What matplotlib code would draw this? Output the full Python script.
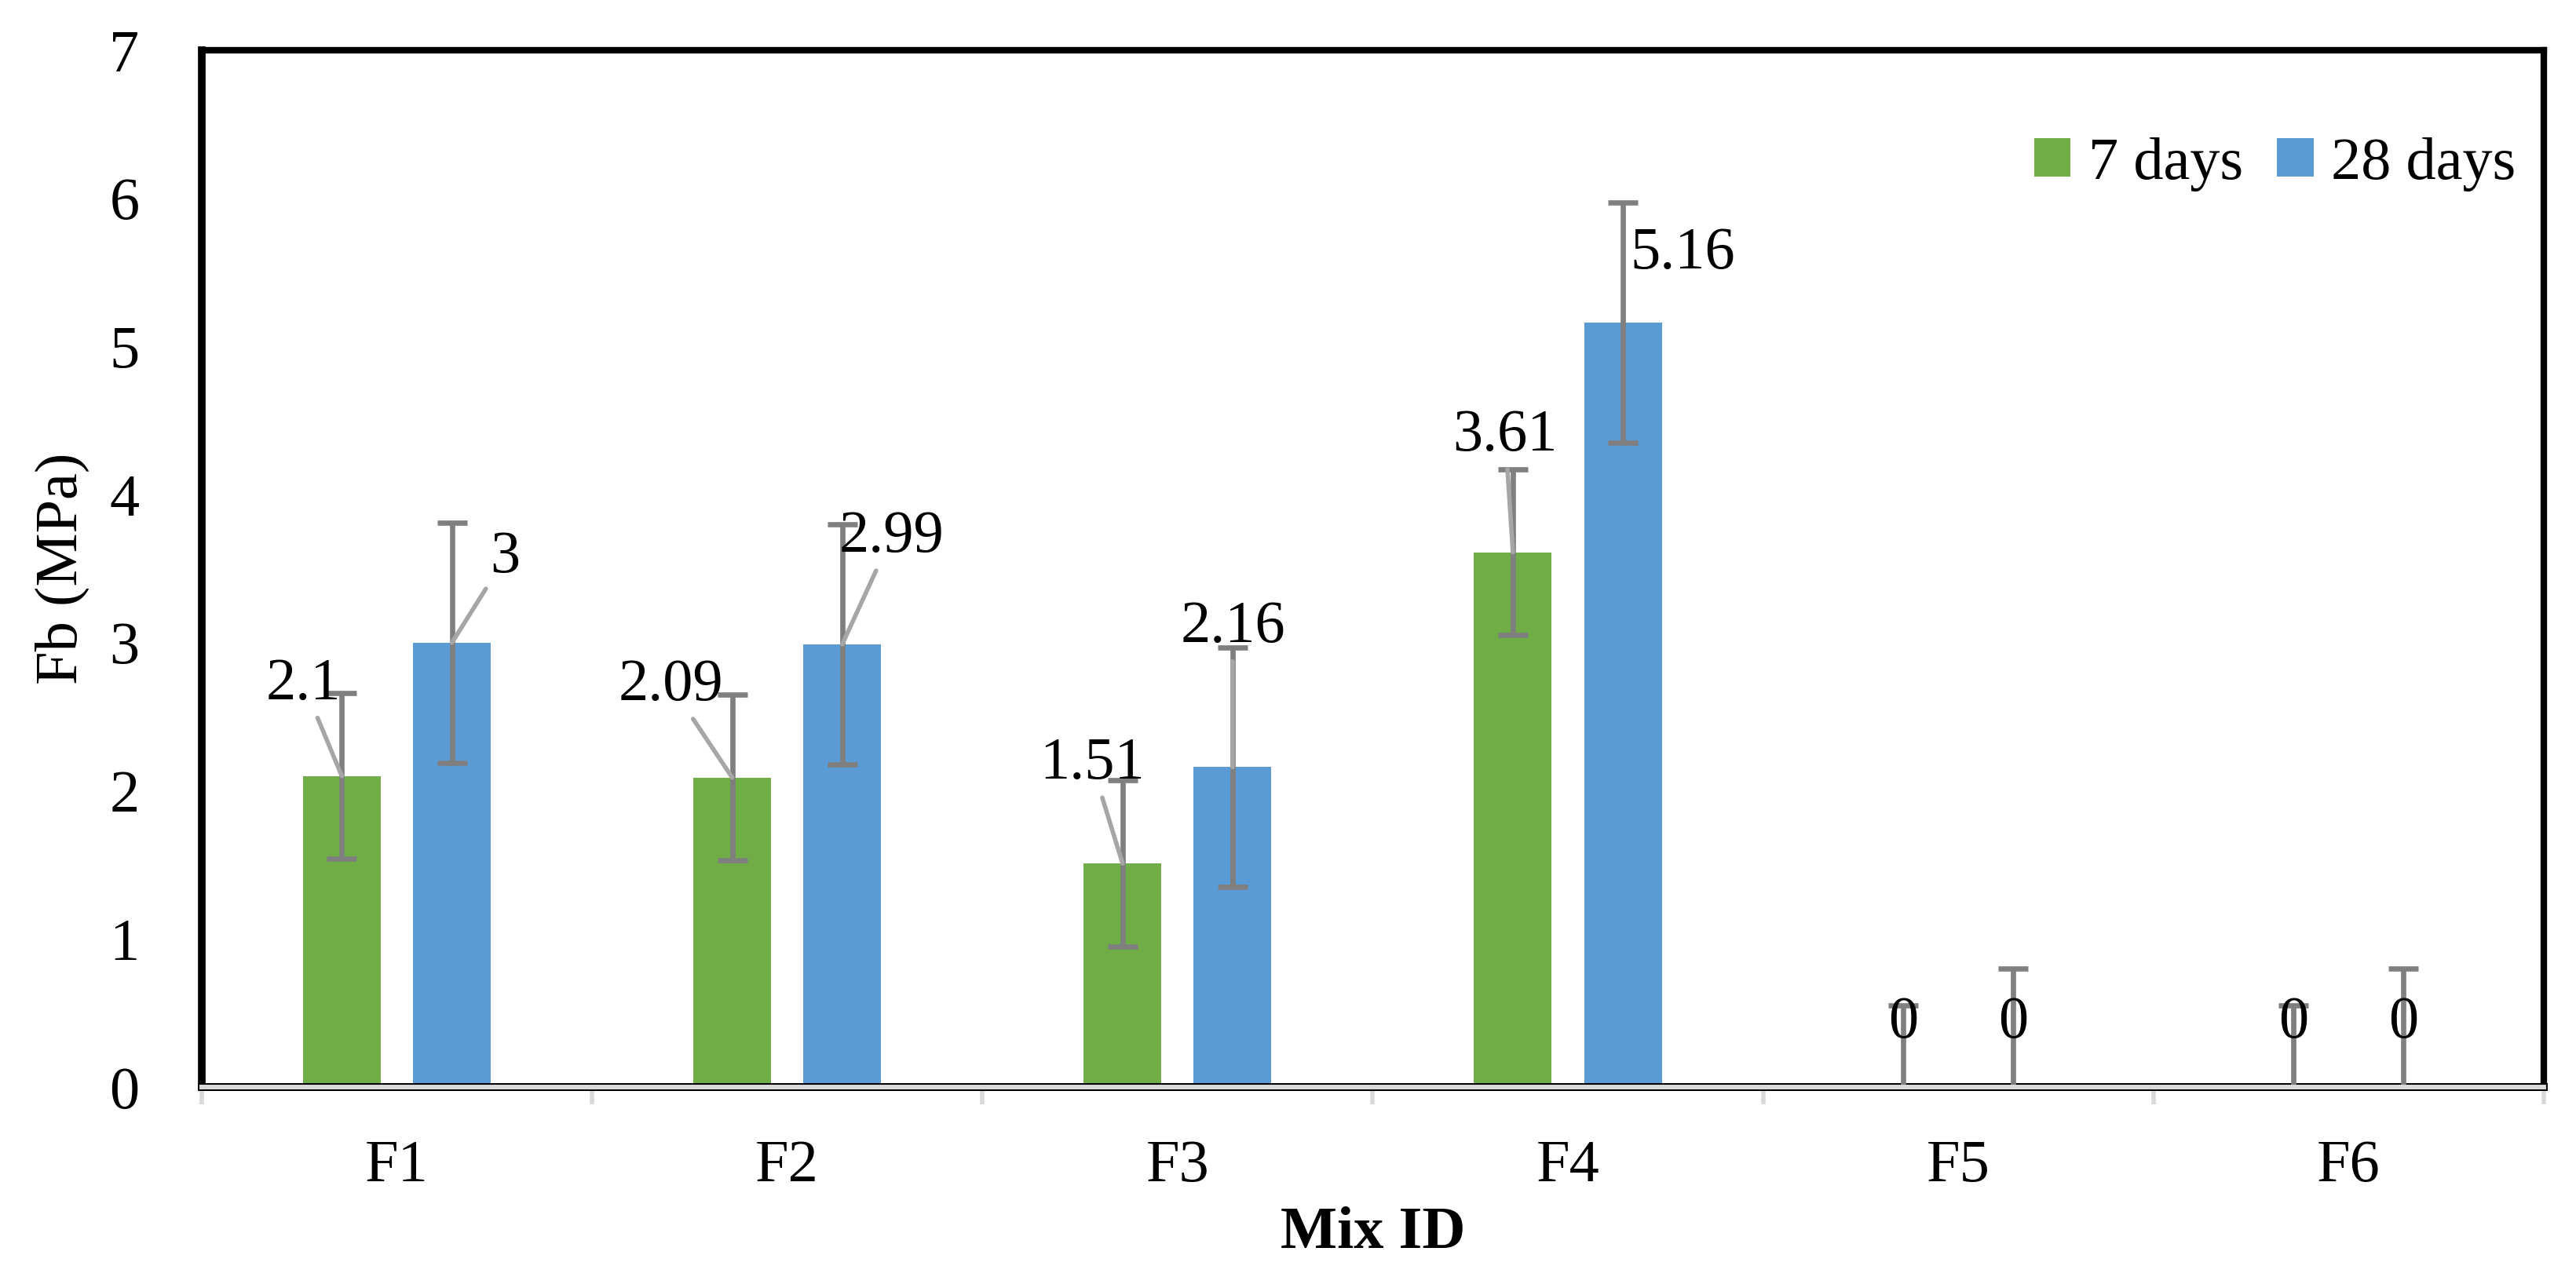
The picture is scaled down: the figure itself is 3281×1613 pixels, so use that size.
import numpy as np
import matplotlib.pyplot as plt

plt.rcParams['font.family'] = ['Liberation Serif', 'DejaVu Serif']

# data
mixes = ['F1', 'F2', 'F3', 'F4', 'F5', 'F6']
fb_7 = [2.1, 2.09, 1.51, 3.61, 0, 0]
fb_28 = [3, 2.99, 2.16, 5.16, 0, 0]
err_7 = [0.56, 0.56, 0.56, 0.56, 0.55, 0.55]
err_28 = [0.81, 0.81, 0.81, 0.81, 0.80, 0.80]

# label placement (offset in points from bar top), Excel-like
off_7 = [(-35, 84), (-56, 84), (-28, 91), (-7, 107), (0, 59), (0, 59)]
off_28 = [(49, 78), (45, 98), (0, 128), (55, 63), (0, 59), (0, 59)]
lead_7 = [True, True, True, True, False, False]
lead_28 = [True, True, True, False, False, False]

green = '#70ad47'
blue = '#5b9bd5'
fs = 55

fig, ax = plt.subplots(figsize=(32.81, 16.13), dpi=100)
fig.subplots_adjust(left=0.0783, right=0.9875, bottom=0.1413, top=0.9603)

x = np.arange(len(mixes))
w = 0.199
d = 0.141

b1 = ax.bar(x - d, fb_7, w, color=green, label='7 days', zorder=2)
b2 = ax.bar(x + d, fb_28, w, color=blue, label='28 days', zorder=2)

ax.errorbar(x - d, fb_7, yerr=err_7, fmt='none', ecolor='#7f7f7f',
            elinewidth=4.8, capsize=13.5, capthick=4.8, zorder=3)
ax.errorbar(x + d, fb_28, yerr=err_28, fmt='none', ecolor='#7f7f7f',
            elinewidth=4.8, capsize=13.5, capthick=4.8, zorder=3)


def labels(xs, vals, offs, leads):
    for xi, v, o, l in zip(xs, vals, offs, leads):
        ap = None
        if l:
            ap = dict(arrowstyle='-', color='#a6a6a6', lw=4, shrinkA=4, shrinkB=0)
        ax.annotate(f'{v:g}', xy=(xi, v), xytext=o, textcoords='offset points',
                    ha='center', va='center', fontsize=fs, arrowprops=ap, zorder=4)


labels(x - d, fb_7, off_7, lead_7)
labels(x + d, fb_28, off_28, lead_28)

ax.set_xlim(-0.5, len(mixes) - 0.5)
ax.set_ylim(0, 7)
ax.set_yticks(range(0, 8))
ax.set_xticks(x)
ax.set_xticklabels(mixes)
ax.set_xticks(np.arange(-0.5, len(mixes)), minor=True)
ax.tick_params(axis='y', length=0, pad=57, labelsize=fs)
ax.tick_params(axis='x', which='major', length=0, pad=48, labelsize=fs)
ax.tick_params(axis='x', which='minor', length=16, width=4, color='#d9d9d9')

for s in ['top', 'right']:
    ax.spines[s].set_linewidth(6)
ax.spines['left'].set_linewidth(7)
ax.spines['bottom'].set_linewidth(7.2)
ax.axhline(0, color='#d9d9d9', lw=4.3, zorder=5, clip_on=False)

ax.set_ylabel('Fb (MPa)', fontsize=fs, labelpad=18)
ax.set_xlabel('Mix ID', fontsize=fs, fontweight='bold', labelpad=12)

ax.legend(handles=[b1, b2], loc='center right', bbox_to_anchor=(0.988, 0.89),
          ncol=2, frameon=False, fontsize=fs, handlelength=0.61, handleheight=0.61,
          handletextpad=0.29, columnspacing=0.57, borderpad=0, borderaxespad=0)

fig.savefig('out.png', dpi=100)
